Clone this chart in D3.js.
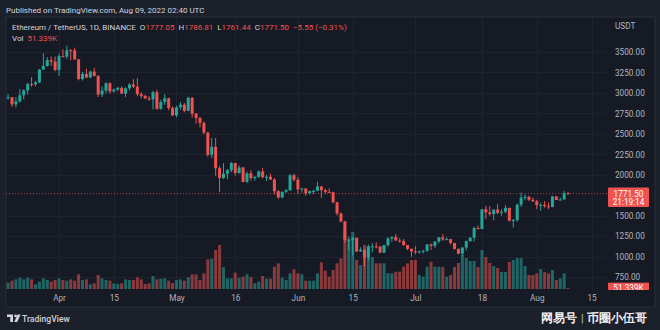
<!DOCTYPE html>
<html>
<head>
<meta charset="utf-8">
<script src="https://cdn.jsdelivr.net/npm/d3@7"></script>
<style>
  html, body { margin: 0; padding: 0; background: #1c202b; }
  svg { display: block; }
  text { font-family: Roboto, "DejaVu Sans", sans-serif; }
</style>
</head>
<body>
<svg id="chart" width="660" height="330"></svg>
<script>
// ETH / USDT daily candles, Binance, 19 Mar 2022 – 9 Aug 2022
const firstDay = "2022-03-19";
const lastDay = "2022-08-09";

const opens = [
  2945,2948,2860,2897,2971,3031,3108,3106,3129,3286,
  3329,3401,3384,3281,3449,3443,3522,3521,3410,3170,
  3232,3189,3261,3209,2981,3030,3118,3019,3040,3062,
  2992,3057,3103,3077,2986,2964,2934,2922,3008,2808,
  2889,2935,2816,2726,2825,2857,2782,2940,2748,2695,
  2636,2517,2245,2342,2082,1961,2014,2057,2145,2023,
  2090,1914,2018,1961,1975,2042,1971,1978,1943,1801,
  1724,1793,1812,1996,1942,1823,1834,1775,1802,1805,
  1859,1814,1793,1789,1665,1529,1432,1207,1208,1233,
  1067,1086,993,1127,1127,1124,1051,1143,1225,1242,
  1199,1192,1144,1098,1067,1059,1067,1074,1151,1134,
  1186,1238,1211,1216,1168,1097,1038,1113,1192,1233,
  1353,1339,1580,1543,1522,1576,1538,1550,1597,1439,
  1449,1636,1723,1732,1696,1678,1631,1634,1617,1608,
  1737,1694,1700,1777.05
];
const highs = [
  2988,2952,2950,3046,3045,3124,3193,3149,3294,3484,
  3439,3446,3445,3479,3534,3577,3535,3553,3414,3258,
  3295,3272,3307,3215,3080,3130,3130,3055,3075,3080,
  3071,3120,3170,3180,3010,2978,2962,3024,3037,2918,
  2985,2942,2836,2844,2888,2877,2955,2952,2755,2707,
  2652,2525,2450,2451,2110,2143,2072,2158,2148,2115,
  2097,2040,2058,1984,2054,2084,1997,2014,1961,1816,
  1798,1826,2010,2015,1973,1842,1835,1810,1819,1915,
  1863,1833,1835,1795,1671,1540,1440,1246,1242,1234,
  1117,1088,1148,1165,1176,1136,1144,1237,1250,1280,
  1230,1217,1145,1100,1129,1074,1085,1152,1163,1191,
  1240,1278,1240,1219,1170,1100,1117,1198,1240,1367,
  1384,1584,1623,1620,1580,1645,1580,1630,1600,1462,
  1650,1785,1763,1745,1722,1695,1660,1680,1663,1743,
  1741,1724,1803,1786.81
];
const lows = [
  2919,2830,2823,2882,2920,2981,3077,3081,3121,3284,
  3322,3331,3265,3209,3437,3416,3400,3400,3154,3152,
  3181,3181,3200,2950,2950,2995,2990,3005,3025,2986,
  2950,3032,3060,2960,2935,2925,2903,2800,2793,2794,
  2853,2790,2718,2702,2794,2765,2778,2700,2625,2580,
  2495,2222,2205,1990,1790,1950,1946,2033,1990,2015,
  1910,1904,1930,1930,1965,1958,1926,1938,1760,1707,
  1715,1781,1808,1919,1765,1781,1746,1762,1768,1804,
  1720,1770,1780,1654,1506,1421,1170,1074,1017,1056,
  1060,880,958,1054,1103,1044,1045,1122,1180,1196,
  1174,1134,1081,1000,1032,1040,1040,1056,1083,1110,
  1166,1195,1205,1150,1087,1032,1006,1078,1180,1187,
  1334,1338,1460,1500,1445,1520,1502,1532,1433,1357,
  1426,1609,1690,1681,1667,1582,1560,1600,1584,1606,
  1691,1688,1700,1761.44
];
const closes = [
  2948,2860,2897,2971,3031,3108,3106,3129,3286,3329,
  3401,3384,3281,3449,3443,3522,3521,3410,3170,3232,
  3189,3261,3209,2981,3030,3118,3019,3040,3062,2992,
  3057,3103,3077,2986,2964,2934,2922,3008,2808,2889,
  2935,2816,2726,2825,2857,2782,2940,2748,2695,2636,
  2517,2245,2342,2082,1961,2014,2057,2145,2023,2090,
  1914,2018,1961,1975,2042,1971,1978,1943,1801,1724,
  1793,1812,1996,1942,1823,1834,1775,1802,1805,1859,
  1814,1793,1789,1665,1529,1432,1207,1208,1233,1067,
  1086,993,1127,1127,1124,1051,1143,1225,1242,1199,
  1192,1144,1098,1067,1059,1067,1074,1151,1134,1186,
  1238,1211,1216,1168,1097,1038,1113,1192,1233,1353,
  1339,1580,1543,1522,1576,1538,1550,1597,1439,1449,
  1636,1723,1732,1696,1678,1631,1634,1617,1608,1737,
  1694,1700,1777.05,1771.50
];
// daily volume, thousands of ETH
const volumes = [
  380,500,580,680,580,680,580,280,440,640,
  540,440,540,640,540,500,580,500,880,540,
  580,280,340,840,640,540,500,340,300,340,
  580,540,540,700,580,300,340,780,580,620,
  640,500,360,540,580,500,700,880,880,540,
  940,1780,1820,2340,2640,1300,640,640,980,680,
  740,880,720,340,440,780,620,620,1340,1540,
  680,540,940,1180,940,880,500,500,500,940,
  1600,1100,740,1140,1540,1840,3540,3000,3420,1740,
  1440,2640,2340,1920,1540,1540,1540,940,940,1040,
  1040,1340,1540,1740,1740,840,740,1340,1640,1340,
  1340,1320,740,840,1320,1560,2040,1860,1680,1680,
  1320,2340,1920,1560,1380,1260,1020,1020,1620,1740,
  1860,1860,1380,840,840,940,1200,1020,940,1140,
  540,640,940,51.339
];

const priceTicks = [750,1000,1250,1500,1750,2000,2250,2500,2750,3000,3250,3500].filter(v => v !== 1750);
const timeTickDates = ["2022-04-01","2022-04-15","2022-05-01","2022-05-16","2022-06-01","2022-06-15","2022-07-01","2022-07-18","2022-08-01","2022-08-15"];
const timeTickLabels = ["Apr","15","May","16","Jun","15","Jul","18","Aug","15"];

const lastPrice = 1771.50;
const countdown = "21:19:14";
const lastVolumeLabel = "51.339K";

// ---- layout ----
const UP = "#26a69a", DOWN = "#ef5350";
const BG = "#161a25";
const pane = { left: 6, right: 607, top: 17, bottom: 290 };
const frame = { left: 6, right: 655, top: 17, bottom: 307 };

const parse = d3.utcParse("%Y-%m-%d");
const days = d3.utcDay.range(parse(firstDay), d3.utcDay.offset(parse(lastDay), 1));
const candles = days.map((d, i) => ({
  date: d, open: opens[i], high: highs[i], low: lows[i], close: closes[i], volume: volumes[i]
}));

const svg = d3.select("#chart");

const x = d3.scaleUtc().domain([parse(firstDay), parse(lastDay)]).range([8.1, 568.1]);
const y = d3.scaleLinear().domain([750, 3500]).range([277.3, 52]);
const yVol = d3.scaleLinear().domain([0, d3.max(volumes)]).range([289, 230]);

// backgrounds
svg.append("rect").attr("width", 660).attr("height", 330).attr("fill", "#1c202b");
svg.append("rect")
  .attr("x", frame.left).attr("y", frame.top)
  .attr("width", frame.right - frame.left).attr("height", frame.bottom - frame.top)
  .attr("fill", BG).attr("stroke", "#2a2e39").attr("stroke-width", 1);

svg.append("defs").append("clipPath").attr("id", "paneClip")
  .append("rect").attr("x", pane.left).attr("y", pane.top)
  .attr("width", pane.right - pane.left).attr("height", pane.bottom - pane.top);

// grid
const grid = svg.append("g").attr("clip-path", "url(#paneClip)");
grid.selectAll("line.h").data(priceTicks).join("line")
  .attr("x1", pane.left).attr("x2", pane.right)
  .attr("y1", d => Math.round(y(d)) + 0.5).attr("y2", d => Math.round(y(d)) + 0.5)
  .attr("stroke", "#1f2330");
grid.selectAll("line.v").data(timeTickDates).join("line")
  .attr("x1", d => Math.round(x(parse(d))) + 0.5).attr("x2", d => Math.round(x(parse(d))) + 0.5)
  .attr("y1", pane.top).attr("y2", pane.bottom)
  .attr("stroke", "#1f2330");

const plot = svg.append("g").attr("clip-path", "url(#paneClip)");

// volume histogram
const barW = 3;
plot.append("g").selectAll("rect").data(candles).join("rect")
  .attr("x", d => x(d.date) - barW / 2)
  .attr("y", d => yVol(d.volume))
  .attr("width", barW)
  .attr("height", d => Math.max(0.5, yVol(0) - yVol(d.volume)))
  .attr("fill", d => d.close >= d.open ? UP : DOWN)
  .attr("fill-opacity", 0.55);

// last price line
plot.append("line")
  .attr("x1", pane.left).attr("x2", pane.right)
  .attr("y1", y(lastPrice)).attr("y2", y(lastPrice))
  .attr("stroke", DOWN).attr("stroke-opacity", 0.7)
  .attr("stroke-dasharray", "1,2");

// candles
const cg = plot.append("g").selectAll("g").data(candles).join("g")
  .attr("fill", d => d.close >= d.open ? UP : DOWN)
  .attr("stroke", d => d.close >= d.open ? UP : DOWN);
cg.append("line")
  .attr("x1", d => x(d.date)).attr("x2", d => x(d.date))
  .attr("y1", d => y(d.high)).attr("y2", d => y(d.low))
  .attr("stroke-width", 1);
cg.append("rect")
  .attr("x", d => x(d.date) - barW / 2)
  .attr("y", d => y(Math.max(d.open, d.close)))
  .attr("width", barW)
  .attr("height", d => Math.max(1, Math.abs(y(d.open) - y(d.close))))
  .attr("stroke", "none");

// price axis
const yAxis = svg.append("g")
  .attr("transform", `translate(${pane.right},0)`)
  .call(d3.axisRight(y).tickValues(priceTicks).tickFormat(d3.format(".2f")).tickSize(0).tickPadding(8));
yAxis.select(".domain").remove();
yAxis.selectAll("text").attr("fill", "#b2b5be").attr("font-size", 8.2).attr("font-family", "Roboto, sans-serif");

svg.append("text").attr("x", 615).attr("y", 29).text("USDT")
  .attr("fill", "#b2b5be").attr("font-size", 8.2);

// time axis
const xAxis = svg.append("g")
  .attr("transform", `translate(0,${pane.bottom})`)
  .call(d3.axisBottom(x).tickValues(timeTickDates.map(parse))
    .tickFormat((d, i) => timeTickLabels[i]).tickSize(0).tickPadding(5));
xAxis.select(".domain").remove();
xAxis.selectAll("text").attr("fill", "#b2b5be").attr("font-size", 8.2).attr("font-family", "Roboto, sans-serif");

// last price tag
const tagY = y(lastPrice);
svg.append("rect").attr("x", 608).attr("y", tagY - 6).attr("width", 41).attr("height", 19.5)
  .attr("fill", DOWN).attr("rx", 1);
svg.append("text").attr("x", 628.5).attr("y", tagY + 3).attr("text-anchor", "middle")
  .attr("fill", "#ffffff").attr("font-size", 8.2).text(d3.format(".2f")(lastPrice));
svg.append("text").attr("x", 628.5).attr("y", tagY + 11.5).attr("text-anchor", "middle")
  .attr("fill", "#ffffff").attr("font-size", 8.2).text(countdown);

// last volume tag (cut by the time axis)
svg.append("defs").append("clipPath").attr("id", "tagClip")
  .append("rect").attr("x", 600).attr("y", pane.top).attr("width", 60).attr("height", pane.bottom - pane.top);
const vTag = svg.append("g").attr("clip-path", "url(#tagClip)");
const vy = yVol(volumes[volumes.length - 1]);
vTag.append("rect").attr("x", 608).attr("y", vy - 5.5).attr("width", 41).attr("height", 11).attr("fill", DOWN);
vTag.append("text").attr("x", 628.5).attr("y", vy + 3).attr("text-anchor", "middle")
  .attr("fill", "#ffffff").attr("font-size", 8.2).text(lastVolumeLabel);

// header
svg.append("text").attr("x", 6).attr("y", 13)
  .attr("fill", "#d1d4dc").attr("font-size", 8)
  .text("Published on TradingView.com, Aug 09, 2022 02:40 UTC");

const last = candles[candles.length - 1];
const change = last.close - last.open;
const legend = svg.append("text").attr("x", 12).attr("y", 29.5).attr("font-size", 8).attr("fill", "#d1d4dc");
legend.append("tspan").text("Ethereum / TetherUS, 1D, BINANCE");
const fmt = d3.format(".2f");
[["O", last.open], ["H", last.high], ["L", last.low], ["C", last.close]].forEach(([k, v]) => {
  legend.append("tspan").attr("dx", 4).attr("fill", "#d1d4dc").text(k);
  legend.append("tspan").attr("fill", DOWN).text(fmt(v));
});
legend.append("tspan").attr("dx", 4).attr("fill", DOWN)
  .text(`${fmt(change).replace("-", "\u2212")} (${d3.format(".2f")(change / last.open * 100).replace("-", "\u2212")}%)`);

const volLegend = svg.append("text").attr("x", 12).attr("y", 41).attr("font-size", 8).attr("fill", "#d1d4dc");
volLegend.append("tspan").text("Vol");
volLegend.append("tspan").attr("dx", 4).attr("fill", DOWN).text(lastVolumeLabel);

// footer: TradingView mark
const logo = svg.append("g").attr("transform", "translate(7,314.5)").attr("fill", "#d1d4dc");
logo.append("path").attr("d", "M0 0 H6 V7.5 H3.2 V2.6 H0 Z");
logo.append("circle").attr("cx", 8.6).attr("cy", 1.4).attr("r", 1.4);
logo.append("path").attr("d", "M10.6 0 H13.6 L10.2 7.5 H7.2 Z");
svg.append("text").attr("x", 22).attr("y", 321.5)
  .attr("fill", "#d1d4dc").attr("font-size", 8.6).attr("font-weight", 500).text("TradingView");

// footer: publisher mark
const mark = svg.append("text").attr("x", 541).attr("y", 322)
  .attr("font-family", "'Noto Sans CJK SC', sans-serif").attr("font-size", 11.8)
  .attr("font-weight", 700).attr("fill", "#f2f2f2");
mark.append("tspan").text("网易号");
mark.append("tspan").attr("dx", 4).attr("font-weight", 300).text("|");
mark.append("tspan").attr("dx", 3).text("币圈小伍哥");
</script>
</body>
</html>
